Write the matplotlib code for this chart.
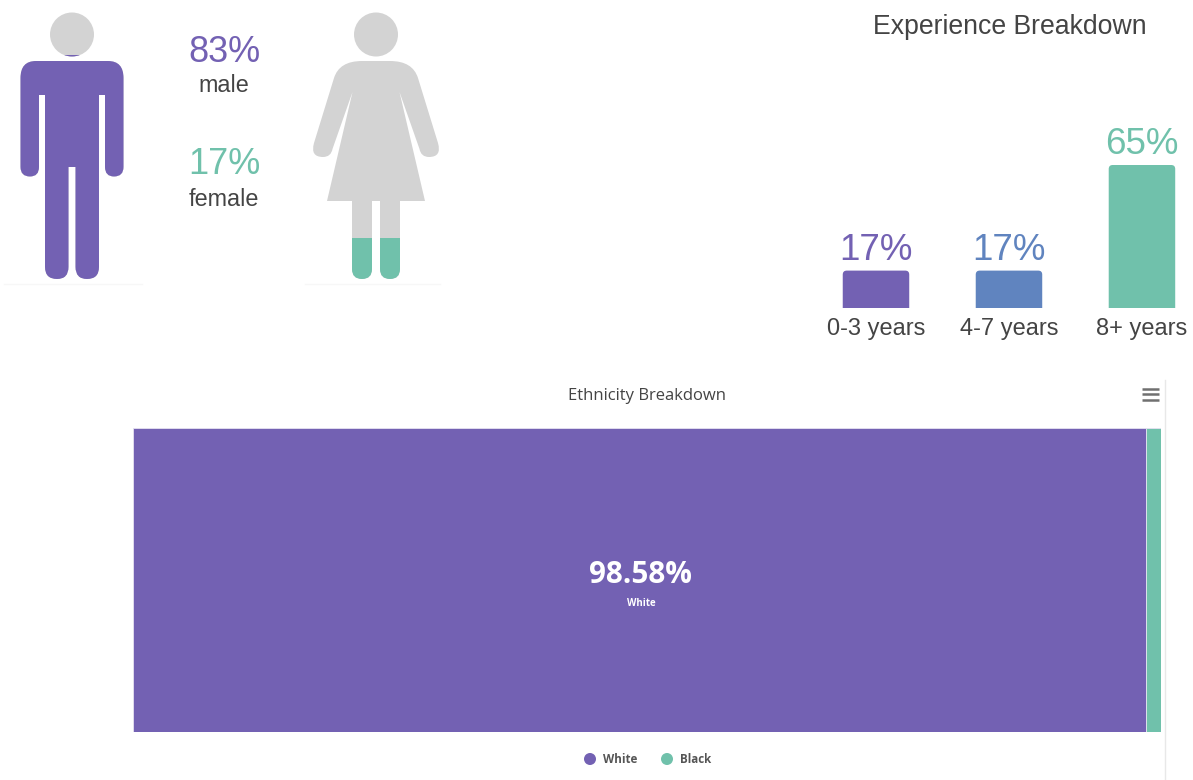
import matplotlib
matplotlib.use("Agg")
import matplotlib.pyplot as plt
from matplotlib.path import Path
from matplotlib.patches import PathPatch, Rectangle, Circle

W, H = 1193, 780
PURPLE = "#7361b3"
BLUE = "#6084bf"
TEAL = "#70c1ab"
GREY = "#d3d3d3"
DARK = "#444444"

# gender
gender_labels = ["male", "female"]
gender_share = [83, 17]
icon_fill = [0.84, 0.155]  # how far the icons are filled

# experience
exp_labels = ["0-3 years", "4-7 years", "8+ years"]
exp_values = [17, 17, 65]
exp_colors = [PURPLE, BLUE, TEAL]

# ethnicity
eth_labels = ["White", "Black"]
eth_values = [98.58, 1.42]
eth_colors = [PURPLE, TEAL]

plt.rcParams["font.family"] = ["Liberation Sans", "DejaVu Sans"]


def rect(left, top, right, bottom):
    # pixel box to figure fraction
    return [left / W, 1 - bottom / H, (right - left) / W, (bottom - top) / H]


def mirror(cx, half):
    # half is the left outline, top centre to bottom centre, as (code, dx, y)
    verts = []
    codes = []
    for c, dx, y in half:
        verts.append((cx + dx, y))
        codes.append(c)
    # walk back up the other side
    for i in range(len(half) - 1, 0, -1):
        c = half[i][0]
        verts.append((cx - half[i - 1][1], half[i - 1][2]))
        codes.append(c)
    verts.append((cx, half[0][2]))
    codes.append(Path.CLOSEPOLY)
    return Path(verts, codes)


L, C = Path.LINETO, Path.CURVE3

man_half = [
    (Path.MOVETO, 0, 61),
    (L, -36, 61), (C, -51.5, 61), (C, -51.5, 78),
    (L, -51.5, 167), (C, -51.5, 176.5), (C, -42, 176.5), (C, -33, 176.5), (C, -33, 167),
    (L, -33, 95), (L, -27, 95),
    (L, -27, 267), (C, -27, 279), (C, -15, 279), (C, -3.5, 279), (C, -3.5, 267),
    (L, -3.5, 167), (L, 0, 167),
]

woman_half = [
    (Path.MOVETO, 0, 61),
    (L, -14, 61), (C, -36.7, 61), (C, -42, 78),
    (L, -62, 143), (C, -66, 157), (C, -53, 157), (C, -45, 157), (C, -43.5, 149),
    (L, -23.5, 92), (L, -49, 201), (L, -24, 201),
    (L, -24, 269), (C, -24, 279), (C, -14, 279), (C, -4, 279), (C, -4, 269),
    (L, -4, 201), (L, 0, 201),
]

fig = plt.figure(figsize=(W / 100, H / 100), dpi=100, facecolor="white")

# whole figure in pixels for the icons and loose text
bg = fig.add_axes([0, 0, 1, 1])
bg.set_xlim(0, W)
bg.set_ylim(H, 0)
bg.axis("off")

icons = [(72, man_half, PURPLE, 4, 142), (376, woman_half, TEAL, 305, 440)]
for (cx, half, col, x0, x1), frac in zip(icons, icon_fill):
    body = mirror(cx, half)
    top = 279 - frac * 267
    bg.add_patch(PathPatch(body, fc=GREY, ec="none"))
    bg.add_patch(Circle((cx, 34.5), 22, fc=GREY, ec="none"))
    clip = Rectangle((cx - 70, top), 140, 279 - top, transform=bg.transData)
    p1 = PathPatch(body, fc=col, ec="none")
    p2 = Circle((cx, 34.5), 22, fc=col, ec="none")
    bg.add_patch(p1)
    bg.add_patch(p2)
    p1.set_clip_path(clip)
    p2.set_clip_path(clip)
    bg.plot([x0, x1], [283.5, 283.5], color="#f7f7f7", lw=1)

gender_colors = [PURPLE, TEAL]
for i in range(2):
    y = 52 + i * 113
    bg.text(224, y, f"{gender_share[i]}%", color=gender_colors[i], fontsize=26,
            ha="center", va="center")
    bg.text(224, y + 34, gender_labels[i], color=DARK, fontsize=16.8,
            ha="center", va="center")

bg.text(1009.5, 27, "Experience Breakdown", color=DARK, fontsize=19.2,
        ha="center", va="center")

# experience bars, top corners rounded
ax = fig.add_axes(rect(809.5, 130, 1192.5, 308))
ax.patch.set_alpha(0)
ax.set_xlim(-0.5, 2.38)
ax.set_ylim(0, 178 / 2.2)
for s in ax.spines.values():
    s.set_visible(False)
ax.set_yticks([])
ax.set_xticks(range(3))
ax.set_xticklabels(exp_labels, fontsize=17, color=DARK)
ax.tick_params(axis="x", length=0, pad=7)

bars = ax.bar(range(3), exp_values, width=0.5, color=exp_colors)
rx = 4 / 133
ry = 4 / 2.2
for b, v, col in zip(bars, exp_values, exp_colors):
    x0, x1 = b.get_x(), b.get_x() + b.get_width()
    outline = Path(
        [(x0, 0), (x0, v - ry), (x0, v), (x0 + rx, v), (x1 - rx, v), (x1, v), (x1, v - ry), (x1, 0), (x0, 0)],
        [Path.MOVETO, L, C, C, L, C, C, L, Path.CLOSEPOLY],
    )
    b.set_visible(False)
    ax.add_patch(PathPatch(outline, fc=col, ec="none"))
    ax.annotate(f"{v}%", (b.get_x() + b.get_width() / 2, v), xytext=(0, 2),
                textcoords="offset points", ha="center", va="bottom",
                color=col, fontsize=26.5)

# ethnicity treemap
tm = fig.add_axes(rect(133, 428, 1161, 732))
tm.set_xlim(0, sum(eth_values))
tm.set_ylim(0, 1)
tm.axis("off")
left = 0
for v, col in zip(eth_values, eth_colors):
    tm.barh(0.5, v, height=1, left=left, color=col, edgecolor="#e6e2f2", linewidth=0.6)
    left += v

sans = ["Open Sans", "DejaVu Sans"]
tm.text(0.494, 0.517, f"{eth_values[0]}%", transform=tm.transAxes, color="white",
        fontsize=21.3, fontweight="bold", family=sans, ha="center", va="center")
tm.text(0.494, 0.423, eth_labels[0], transform=tm.transAxes, color="white",
        fontsize=7, fontweight="bold", family=sans, ha="center", va="center")

bg.text(647.5, 395.5, "Ethnicity Breakdown", color="#444444", fontsize=12,
        family=sans, ha="center", va="center")

# menu icon and right edge of the chart box
bg.plot([1165, 1165], [380, 780], color="#e8e8e8", lw=1)
for y in [388.5, 394, 399.5]:
    bg.plot([1142, 1159], [y, y], color="#707070", lw=1.8, solid_capstyle="butt")

# legend
for x, name, col in zip([590, 667], eth_labels, eth_colors):
    bg.add_patch(Circle((x, 759), 6, fc=col, ec="none"))
    bg.text(x + 13, 759.5, name, color="#555555", fontsize=8.4, fontweight="bold",
            family=sans, ha="left", va="center")

fig.savefig("out.png", dpi=100)
